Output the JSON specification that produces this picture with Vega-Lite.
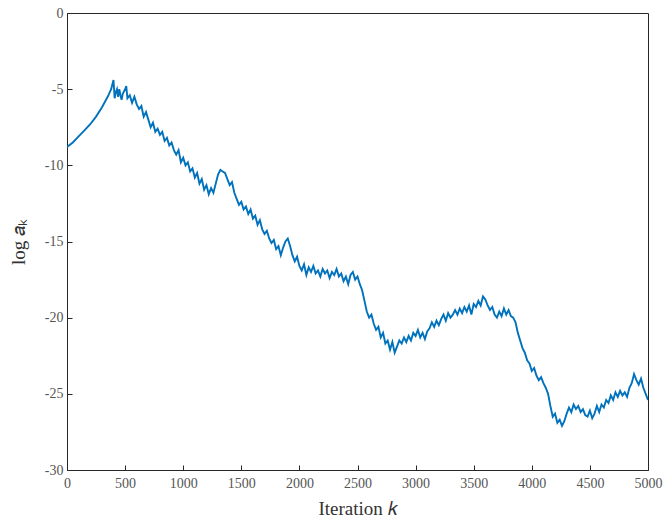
{
  "$schema": "https://vega.github.io/schema/vega-lite/v6.json",
  "width": 581,
  "height": 457,
  "autosize": "none",
  "padding": {"left": 67, "top": 13, "right": 17, "bottom": 55},
  "background": "white",
  "config": {
    "view": {"stroke": "#262626", "strokeWidth": 1},
    "font": "Liberation Serif",
    "axis": {"labelFont": "Liberation Serif", "titleFont": "Liberation Serif"}
  },
  "data": {"values": [
    {"k":0,"v":-8.8},{"k":50,"v":-8.5},{"k":100,"v":-8.1},{"k":150,"v":-7.7},{"k":200,"v":-7.3},{"k":250,"v":-6.8},{"k":300,"v":-6.2},{"k":350,"v":-5.5},{"k":380,"v":-5.0},{"k":400,"v":-4.4},
    {"k":410,"v":-5.6},{"k":420,"v":-5.2},{"k":430,"v":-5.0},{"k":440,"v":-5.5},{"k":450,"v":-5.0},{"k":460,"v":-5.4},{"k":470,"v":-5.7},{"k":480,"v":-5.3},{"k":500,"v":-5.0},{"k":510,"v":-4.8},{"k":520,"v":-5.6},{"k":540,"v":-5.4},{"k":560,"v":-5.9},{"k":580,"v":-5.5},{"k":600,"v":-6.0},{"k":620,"v":-6.3},{"k":640,"v":-6.1},{"k":660,"v":-6.8},{"k":680,"v":-6.5},{"k":700,"v":-7.0},{"k":720,"v":-7.5},{"k":740,"v":-7.2},{"k":760,"v":-7.8},{"k":780,"v":-7.6},{"k":800,"v":-8.0},{"k":820,"v":-7.8},{"k":840,"v":-8.4},{"k":860,"v":-8.2},{"k":880,"v":-8.7},{"k":900,"v":-8.5},{"k":920,"v":-9.0},{"k":940,"v":-9.3},{"k":960,"v":-9.0},{"k":980,"v":-9.8},{"k":1000,"v":-9.5},{"k":1020,"v":-10.0},{"k":1040,"v":-9.8},{"k":1060,"v":-10.4},{"k":1080,"v":-10.2},{"k":1100,"v":-10.8},{"k":1120,"v":-10.5},{"k":1140,"v":-11.2},{"k":1160,"v":-10.9},{"k":1180,"v":-11.6},{"k":1200,"v":-11.3},{"k":1220,"v":-11.9},{"k":1240,"v":-11.5},{"k":1260,"v":-11.8},{"k":1280,"v":-11.2},{"k":1300,"v":-10.6},{"k":1320,"v":-10.3},{"k":1340,"v":-10.4},{"k":1360,"v":-10.5},{"k":1380,"v":-10.9},{"k":1400,"v":-11.3},{"k":1420,"v":-11.1},{"k":1440,"v":-11.8},{"k":1460,"v":-12.2},{"k":1480,"v":-12.6},{"k":1500,"v":-12.4},{"k":1520,"v":-12.9},{"k":1540,"v":-12.7},{"k":1560,"v":-13.2},{"k":1580,"v":-12.9},{"k":1600,"v":-13.5},{"k":1620,"v":-13.3},{"k":1640,"v":-13.9},{"k":1660,"v":-13.6},{"k":1680,"v":-14.2},{"k":1700,"v":-14.5},{"k":1720,"v":-14.3},{"k":1740,"v":-14.8},{"k":1760,"v":-15.1},{"k":1780,"v":-14.9},{"k":1800,"v":-15.5},{"k":1820,"v":-15.3},{"k":1840,"v":-15.9},{"k":1860,"v":-15.4},{"k":1880,"v":-15.0},{"k":1900,"v":-14.8},{"k":1920,"v":-15.3},{"k":1940,"v":-15.9},{"k":1960,"v":-16.3},{"k":1980,"v":-16.0},{"k":2000,"v":-16.6},{"k":2020,"v":-16.9},{"k":2040,"v":-16.5},{"k":2060,"v":-17.2},{"k":2080,"v":-16.7},{"k":2100,"v":-17.0},{"k":2120,"v":-16.6},{"k":2140,"v":-17.1},{"k":2160,"v":-16.9},{"k":2180,"v":-17.3},{"k":2200,"v":-16.8},{"k":2220,"v":-17.1},{"k":2240,"v":-16.9},{"k":2260,"v":-17.4},{"k":2280,"v":-17.0},{"k":2300,"v":-17.2},{"k":2320,"v":-16.8},{"k":2340,"v":-17.3},{"k":2360,"v":-17.1},{"k":2380,"v":-17.6},{"k":2400,"v":-17.3},{"k":2420,"v":-17.8},{"k":2440,"v":-17.2},{"k":2460,"v":-17.0},{"k":2480,"v":-17.5},{"k":2500,"v":-17.3},{"k":2520,"v":-17.8},{"k":2540,"v":-18.2},{"k":2560,"v":-18.9},{"k":2580,"v":-19.6},{"k":2600,"v":-20.0},{"k":2620,"v":-19.8},{"k":2640,"v":-20.4},{"k":2660,"v":-20.8},{"k":2680,"v":-20.6},{"k":2700,"v":-21.3},{"k":2720,"v":-21.0},{"k":2740,"v":-21.7},{"k":2760,"v":-21.5},{"k":2780,"v":-22.1},{"k":2800,"v":-21.6},{"k":2820,"v":-22.3},{"k":2840,"v":-21.9},{"k":2860,"v":-21.5},{"k":2880,"v":-21.7},{"k":2900,"v":-21.3},{"k":2920,"v":-21.6},{"k":2940,"v":-21.2},{"k":2960,"v":-21.5},{"k":2980,"v":-21.0},{"k":3000,"v":-21.2},{"k":3020,"v":-20.8},{"k":3040,"v":-21.3},{"k":3060,"v":-21.0},{"k":3080,"v":-21.4},{"k":3100,"v":-20.9},{"k":3120,"v":-20.7},{"k":3140,"v":-20.3},{"k":3160,"v":-20.6},{"k":3180,"v":-20.2},{"k":3200,"v":-20.5},{"k":3220,"v":-20.1},{"k":3240,"v":-19.8},{"k":3260,"v":-20.2},{"k":3280,"v":-19.7},{"k":3300,"v":-20.0},{"k":3320,"v":-19.8},{"k":3340,"v":-19.5},{"k":3360,"v":-19.8},{"k":3380,"v":-19.4},{"k":3400,"v":-19.7},{"k":3420,"v":-19.3},{"k":3440,"v":-19.6},{"k":3460,"v":-19.2},{"k":3480,"v":-19.8},{"k":3500,"v":-19.1},{"k":3520,"v":-19.3},{"k":3540,"v":-18.9},{"k":3560,"v":-19.2},{"k":3580,"v":-18.6},{"k":3600,"v":-18.8},{"k":3620,"v":-19.2},{"k":3640,"v":-19.5},{"k":3660,"v":-19.3},{"k":3680,"v":-19.8},{"k":3700,"v":-20.0},{"k":3720,"v":-19.6},{"k":3740,"v":-19.9},{"k":3760,"v":-19.4},{"k":3780,"v":-19.8},{"k":3800,"v":-19.5},{"k":3820,"v":-19.9},{"k":3840,"v":-20.0},{"k":3860,"v":-20.3},{"k":3880,"v":-21.0},{"k":3900,"v":-21.5},{"k":3920,"v":-22.0},{"k":3940,"v":-22.3},{"k":3960,"v":-22.8},{"k":3980,"v":-23.0},{"k":4000,"v":-23.5},{"k":4020,"v":-23.3},{"k":4040,"v":-23.8},{"k":4060,"v":-24.1},{"k":4080,"v":-23.9},{"k":4100,"v":-24.3},{"k":4120,"v":-24.6},{"k":4140,"v":-25.0},{"k":4160,"v":-25.8},{"k":4180,"v":-26.5},{"k":4200,"v":-26.3},{"k":4220,"v":-26.9},{"k":4240,"v":-26.7},{"k":4260,"v":-27.1},{"k":4280,"v":-26.8},{"k":4300,"v":-26.3},{"k":4320,"v":-25.9},{"k":4340,"v":-26.2},{"k":4360,"v":-25.7},{"k":4380,"v":-26.0},{"k":4400,"v":-25.8},{"k":4420,"v":-26.2},{"k":4440,"v":-26.0},{"k":4460,"v":-26.4},{"k":4480,"v":-26.5},{"k":4500,"v":-26.1},{"k":4520,"v":-26.6},{"k":4540,"v":-26.3},{"k":4560,"v":-25.8},{"k":4580,"v":-26.2},{"k":4600,"v":-25.7},{"k":4620,"v":-25.9},{"k":4640,"v":-25.4},{"k":4660,"v":-25.6},{"k":4680,"v":-25.1},{"k":4700,"v":-25.4},{"k":4720,"v":-24.9},{"k":4740,"v":-25.2},{"k":4760,"v":-24.8},{"k":4780,"v":-25.1},{"k":4800,"v":-24.9},{"k":4820,"v":-25.2},{"k":4840,"v":-24.6},{"k":4860,"v":-24.3},{"k":4880,"v":-23.7},{"k":4900,"v":-24.1},{"k":4920,"v":-24.4},{"k":4940,"v":-24.0},{"k":4960,"v":-24.6},{"k":4980,"v":-25.0},{"k":5000,"v":-25.4}
  ]},
  "mark": {"type": "line", "color": "#0072BD", "strokeWidth": 1.9, "clip": true},
  "encoding": {
    "x": {
      "field": "k", "type": "quantitative",
      "scale": {"domain": [0, 5000], "nice": false, "zero": false},
      "axis": {
        "title": "Iteration 𝑘",
        "titleFontSize": 19, "titleFontWeight": "normal", "titleColor": "#333",
        "titlePadding": 9,
        "values": [0,500,1000,1500,2000,2500,3000,3500,4000,4500,5000],
        "format": "d",
        "labelFontSize": 14, "labelColor": "#555",
        "labelPadding": 11, "labelFlush": false,
        "tickSize": -5, "tickColor": "#262626", "domainColor": "#262626",
        "grid": false
      }
    },
    "y": {
      "field": "v", "type": "quantitative",
      "scale": {"domain": [-30, 0], "nice": false, "zero": false},
      "axis": {
        "title": "log 𝑎ₖ",
        "titleFontSize": 19, "titleFontWeight": "normal", "titleColor": "#333",
        "titlePadding": 16,
        "values": [0,-5,-10,-15,-20,-25,-30],
        "labelExpr": "datum.value + ''",
        "labelFontSize": 14, "labelColor": "#555",
        "labelPadding": 9, "labelFlush": false,
        "tickSize": -5, "tickColor": "#262626", "domainColor": "#262626",
        "grid": false
      }
    }
  }
}
